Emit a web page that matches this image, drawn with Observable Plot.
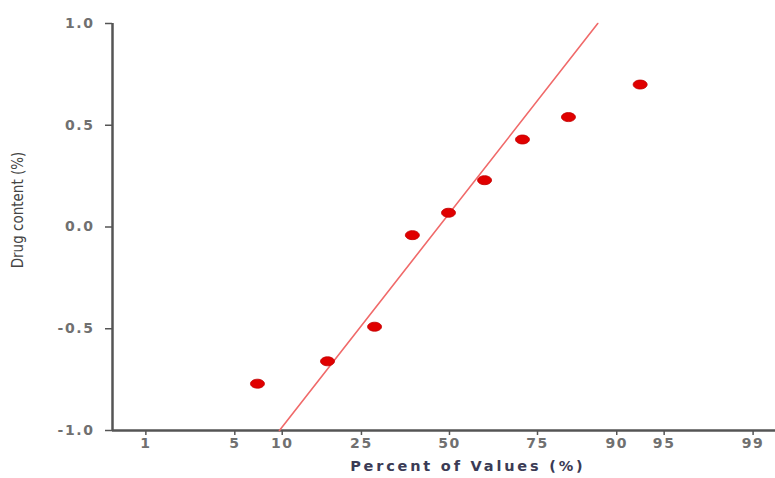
<!DOCTYPE html>
<html>
<head>
<meta charset="utf-8">
<script src="https://cdn.jsdelivr.net/npm/d3@7"></script>
<script src="https://cdn.jsdelivr.net/npm/@observablehq/plot@0.6"></script>
<style>
  html, body { margin: 0; padding: 0; background: #fff; }
  #chart svg { display: block; }
  .tick-lbl text { letter-spacing: 1.6px; }
</style>
</head>
<body>
<div id="chart"></div>
<script>
// Data: normal probability plot (percent = plotting position, value = drug content)
const percents = [7.06, 17.5, 28.3, 38.8, 49.7, 60.6, 71.2, 81.9, 92.8];
const values   = [-0.77, -0.66, -0.49, -0.04, 0.07, 0.23, 0.43, 0.54, 0.70];
// Fitted reference line (percent, value) at its two ends
const fitPercents = [9.63, 87.2];
const fitValues   = [-1.0, 1.0];
// Tick labels
const xTickPercents = [1, 5, 10, 25, 50, 75, 90, 95, 99];
const yTicks = [-1.0, -0.5, 0.0, 0.5, 1.0];

// Inverse normal CDF (Acklam) for the probability axis
function probit(p) {
  const a = [-3.969683028665376e+01, 2.209460984245205e+02, -2.759285104469687e+02, 1.383577518672690e+02, -3.066479806614716e+01, 2.506628277459239e+00];
  const b = [-5.447609879822406e+01, 1.615858368580409e+02, -1.556989798598866e+02, 6.680131188771972e+01, -1.328068155288572e+01];
  const c = [-7.784894002430293e-03, -3.223964580411365e-01, -2.400758277161838e+00, -2.549732539343734e+00, 4.374664141464968e+00, 2.938163982698783e+00];
  const d = [7.784695709041462e-03, 3.224671290700398e-01, 2.445134137142996e+00, 3.754408661907416e+00];
  const pl = 0.02425, ph = 1 - pl;
  let q, r;
  if (p < pl) {
    q = Math.sqrt(-2 * Math.log(p));
    return (((((c[0]*q+c[1])*q+c[2])*q+c[3])*q+c[4])*q+c[5]) / ((((d[0]*q+d[1])*q+d[2])*q+d[3])*q+1);
  } else if (p <= ph) {
    q = p - 0.5; r = q * q;
    return (((((a[0]*r+a[1])*r+a[2])*r+a[3])*r+a[4])*r+a[5])*q / (((((b[0]*r+b[1])*r+b[2])*r+b[3])*r+b[4])*r+1);
  } else {
    q = Math.sqrt(-2 * Math.log(1 - p));
    return -(((((c[0]*q+c[1])*q+c[2])*q+c[3])*q+c[4])*q+c[5]) / ((((d[0]*q+d[1])*q+d[2])*q+d[3])*q+1);
  }
}
const z = pct => probit(pct / 100);

const points = percents.map((p, i) => ({pct: p, value: values[i]}));
const fit = fitPercents.map((p, i) => ({pct: p, value: fitValues[i]}));
const xTicks = xTickPercents.map(z);

// Ellipse symbol for the dots
const ellipse = {
  draw(ctx, size) {
    const rx = 7, ry = 4.5, k = 0.5523;
    ctx.moveTo(rx, 0);
    ctx.bezierCurveTo(rx, ry * k, rx * k, ry, 0, ry);
    ctx.bezierCurveTo(-rx * k, ry, -rx, ry * k, -rx, 0);
    ctx.bezierCurveTo(-rx, -ry * k, -rx * k, -ry, 0, -ry);
    ctx.bezierCurveTo(rx * k, -ry, rx, -ry * k, rx, 0);
    ctx.closePath();
  }
};

const xDomain = [-2.582, 2.498];
const axisColor = "#555";
const tickText = "#707070";

const chart = Plot.plot({
  width: 775,
  height: 478,
  marginLeft: 112,
  marginRight: 0,
  marginTop: 23,
  marginBottom: 48,
  style: {background: "#fff", overflow: "visible"},
  x: {type: "linear", domain: xDomain},
  y: {domain: [-1, 1]},
  marks: [
    Plot.axisY({
      ticks: yTicks,
      tickFormat: d => d.toFixed(1),
      tickSize: 7,
      tickPadding: 11,
      stroke: axisColor,
      strokeWidth: 1.5,
      fill: tickText,
      fontSize: 14,
      fontWeight: "bold",
      fontFamily: "DejaVu Sans, sans-serif",
      className: "tick-lbl",
      label: null
    }),
    Plot.axisX({
      ticks: xTicks,
      tickFormat: (d, i) => String(xTickPercents[i]),
      tickSize: 5,
      tickPadding: 3,
      stroke: axisColor,
      strokeWidth: 1.5,
      fill: tickText,
      fontSize: 14,
      fontWeight: "bold",
      fontFamily: "DejaVu Sans, sans-serif",
      className: "tick-lbl",
      label: null
    }),
    Plot.ruleX([xDomain[0]], {stroke: axisColor, strokeWidth: 2.5}),
    Plot.ruleY([-1], {stroke: axisColor, strokeWidth: 2.5}),
    Plot.line(fit, {x: d => z(d.pct), y: "value", stroke: "#f06a6a", strokeWidth: 1.6}),
    Plot.dot(points, {x: d => z(d.pct), y: "value", symbol: ellipse, fill: "#e00000", stroke: "#c00000", strokeWidth: 0.8, r: 5}),
    Plot.text(["Percent of Values (%)"], {
      frameAnchor: "bottom", x: z(50) + 0.14, dy: 40,
      fill: "#3b3b55", fontSize: 14.5, fontWeight: "bold",
      fontFamily: "DejaVu Sans, sans-serif",
      className: "xlabel"
    }),
    Plot.text(["Drug content (%)"], {
      frameAnchor: "left", textAnchor: "middle", dx: -94, dy: -17, rotate: -90,
      fill: "#444", fontSize: 15,
      fontFamily: "DejaVu Sans Condensed, Liberation Sans Narrow, sans-serif"
    })
  ]
});

chart.querySelectorAll(".xlabel text").forEach(t => t.style.letterSpacing = "2.8px");
document.getElementById("chart").appendChild(chart);
</script>
</body>
</html>
